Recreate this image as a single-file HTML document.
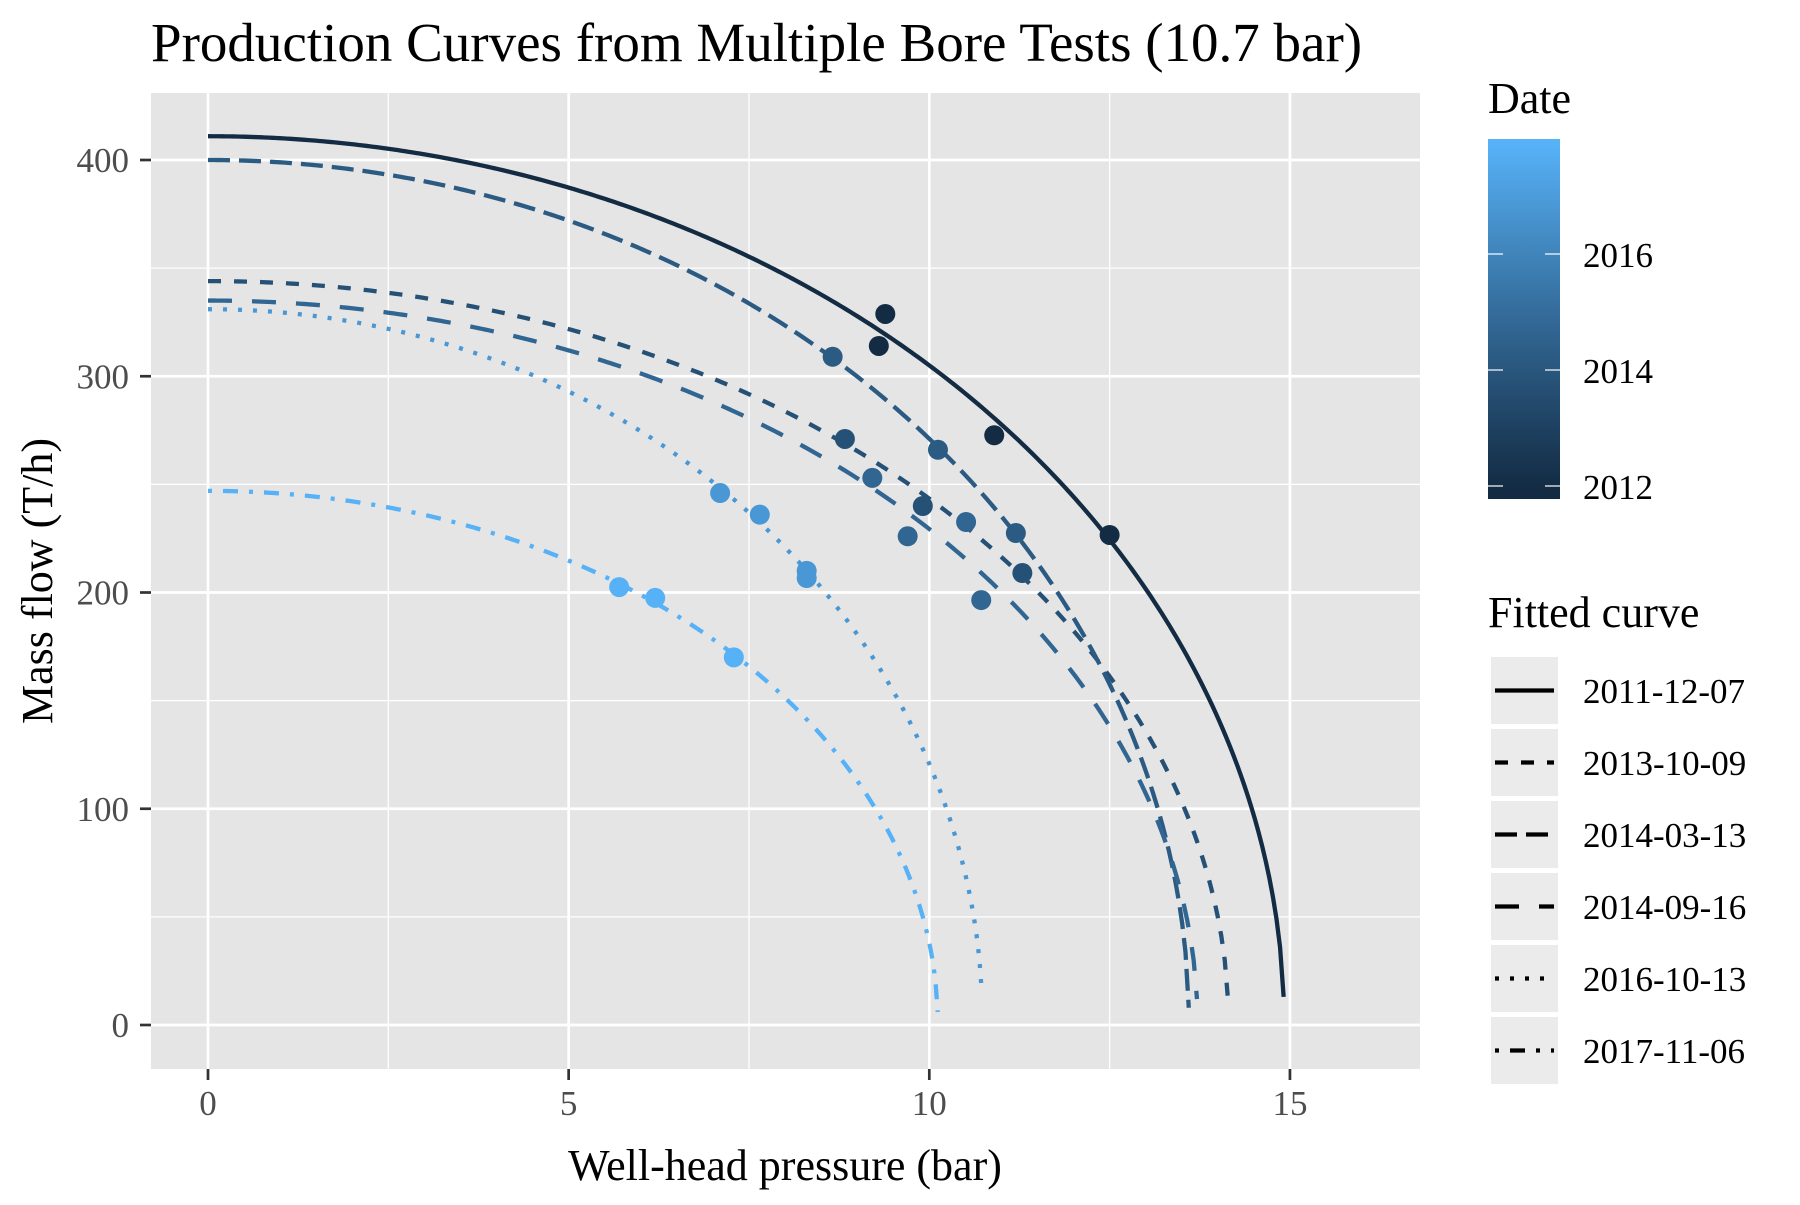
<!DOCTYPE html>
<html><head><meta charset="utf-8"><style>
html,body{margin:0;padding:0;background:#fff;}
svg text{font-family:"Liberation Serif",serif;}
</style></head><body>
<svg id="chart" width="1800" height="1200" viewBox="0 0 1800 1200" xmlns="http://www.w3.org/2000/svg">
<rect width="1800" height="1200" fill="#fff"/>
<text x="151" y="61" font-size="55" fill="#000">Production Curves from Multiple Bore Tests (10.7 bar)</text>
<rect x="151" y="93" width="1269" height="976" fill="#e5e5e5"/>
<g id="grid"></g>
<g id="curves"></g>
<g id="points"></g>
<g id="axes"></g>
<text x="785" y="1180" font-size="44" text-anchor="middle" fill="#000">Well-head pressure (bar)</text>
<text transform="translate(52,581) rotate(-90)" font-size="44" text-anchor="middle" fill="#000">Mass flow (T/h)</text>
<text x="1488" y="113" font-size="44" fill="#000">Date</text>
<defs><linearGradient id="cbgrad" gradientUnits="userSpaceOnUse" x1="0" y1="490" x2="0" y2="144"></linearGradient></defs>
<g id="colorbar"></g>
<text x="1488" y="627" font-size="44" fill="#000">Fitted curve</text>
<g id="legend"></g>
</svg>
<script>
// ---- data ----
const dates = ["2011-12-07","2013-10-09","2014-03-13","2014-09-16","2016-10-13","2017-11-06"];
const dateNum = [2011.93, 2013.77, 2014.20, 2014.71, 2016.78, 2017.85];
const q0 = [411, 344, 400, 335, 331, 247];
const pmax = [14.92, 14.15, 13.6, 13.72, 10.74, 10.12];
const qEnd = [13, 11, 8, 12, 15, 6];
const dashes = ["", "13,13", "22,9", "24,20", "4,11", "4,11,15,11"];
const pointP = [9.39, 9.30, 10.90, 12.50, 8.83, 9.91, 11.29, 8.66, 10.12, 11.20, 9.21, 9.70, 10.51, 10.72, 7.10, 7.65, 8.30, 8.30, 5.70, 6.20, 7.29];
const pointQ = [328.8, 314, 272.7, 226.6, 271, 240, 209, 309, 266, 227.5, 253, 226, 232.6, 196.5, 246, 236, 210, 206.7, 202.5, 197.5, 170];
const pointSeries = [0,0,0,0, 1,1,1, 2,2,2, 3,3,3,3, 4,4,4,4, 5,5,5];
const xTicks = [0, 5, 10, 15];
const xMinor = [2.5, 7.5, 12.5];
const yTicks = [0, 100, 200, 300, 400];
const yMinor = [50, 150, 250, 350];
const cbTicks = [2012, 2014, 2016];

// ---- scales ----
const NS = "http://www.w3.org/2000/svg";
const X = p => 208 + 72.13 * p;
const Y = q => 1025 - 2.1625 * q;
const dMin = 2011.93, dMax = 2017.85;
function toLin(c){c/=255;return c<=0.04045?c/12.92:Math.pow((c+0.055)/1.055,2.4);}
function fromLin(c){const v=c<=0.0031308?12.92*c:1.055*Math.pow(c,1/2.4)-0.055;return Math.max(0,Math.min(255,Math.round(v*255)));}
function rgb2lab(r){const [R,G,B]=r.map(toLin);
  let x=(0.4124*R+0.3576*G+0.1805*B)/0.95047,y=0.2126*R+0.7152*G+0.0722*B,z=(0.0193*R+0.1192*G+0.9505*B)/1.08883;
  const f=t=>t>0.008856?Math.cbrt(t):7.787*t+16/116;
  return [116*f(y)-16,500*(f(x)-f(y)),200*(f(y)-f(z))];}
function lab2rgb(l){const fy=(l[0]+16)/116,fx=fy+l[1]/500,fz=fy-l[2]/200;
  const g=t=>t*t*t>0.008856?t*t*t:(t-16/116)/7.787;
  const x=g(fx)*0.95047,y=g(fy),z=g(fz)*1.08883;
  const R=3.2406*x-1.5372*y-0.4986*z,G=-0.9689*x+1.8758*y+0.0415*z,B=0.0557*x-0.2040*y+1.0570*z;
  return [fromLin(R),fromLin(G),fromLin(B)];}
const L0=rgb2lab([0x13,0x2B,0x43]), L1=rgb2lab([0x56,0xB1,0xF7]);
function colorT(t){const l=L0.map((v,i)=>v+(L1[i]-v)*t);return "rgb("+lab2rgb(l).join(",")+")";}
function color(d){ return colorT((d - dMin) / (dMax - dMin)); }
function mk(tag, attrs, parent){ const e = document.createElementNS(NS, tag);
  for (const k in attrs) e.setAttribute(k, attrs[k]); parent.appendChild(e); return e; }

const grad=document.getElementById("cbgrad");
for(let k=0;k<=10;k++){mk("stop",{offset:k/10,"stop-color":colorT(k/10)},grad);}

const grid = document.getElementById("grid");
xMinor.forEach(v=>{ const l=mk("line",{x1:X(v),x2:X(v),y1:93,y2:1069,stroke:"#fff","stroke-width":1.3},grid);
    });
yMinor.forEach(v=>{ const l=mk("line",{x1:151,x2:1420,y1:Y(v),y2:Y(v),stroke:"#fff","stroke-width":1.3},grid);
    });
xTicks.forEach(v=>{ const l=mk("line",{x1:X(v),x2:X(v),y1:93,y2:1069,stroke:"#fff","stroke-width":2.7},grid);
    });
yTicks.forEach(v=>{ const l=mk("line",{x1:151,x2:1420,y1:Y(v),y2:Y(v),stroke:"#fff","stroke-width":2.7},grid);
    });

const axes = document.getElementById("axes");
xTicks.forEach(v=>{
  const t=mk("line",{x1:X(v),x2:X(v),y1:1069,y2:1080,stroke:"#333","stroke-width":2.7},axes);
   
  const s=mk("text",{x:X(v),y:1115,"font-size":35,"text-anchor":"middle",fill:"#4d4d4d"},axes);
  s.textContent=v;  
});
yTicks.forEach(v=>{
  const t=mk("line",{x1:140,x2:151,y1:Y(v),y2:Y(v),stroke:"#333","stroke-width":2.7},axes);
   
  const s=mk("text",{x:129,y:Y(v)+12,"font-size":35,"text-anchor":"end",fill:"#4d4d4d"},axes);
  s.textContent=v;  
});

const curves = document.getElementById("curves");
dates.forEach((d,i)=>{
  const pe = pmax[i]*Math.sqrt(1 - (qEnd[i]/q0[i])**2);
  let pts=[]; const N=300;
  for(let k=0;k<=N;k++){ const p=pe*k/N; const q=q0[i]*Math.sqrt(Math.max(0,1-(p/pmax[i])**2));
    pts.push(X(p).toFixed(2)+","+Y(q).toFixed(2)); }
  const a={points:pts.join(" "),fill:"none",stroke:color(dateNum[i]),"stroke-width":4.3};
  if(dashes[i]) a["stroke-dasharray"]=dashes[i];
  const pl=mk("polyline",a,curves);
   
});

const points = document.getElementById("points");
pointP.forEach((p,i)=>{
  const c=mk("circle",{cx:X(p),cy:Y(pointQ[i]),r:10,fill:color(dateNum[pointSeries[i]])},points);
   
});

const cb = document.getElementById("colorbar");
const CBY = d => 486 - (d-2012)*58;
grad.setAttribute("y1",CBY(dMin)); grad.setAttribute("y2",CBY(dMax));
const bar = mk("rect",{x:1488,y:139,width:72,height:360,fill:"url(#cbgrad)"},cb);
 
cbTicks.forEach(v=>{
  const a=mk("line",{x1:1488,x2:1503,y1:CBY(v),y2:CBY(v),stroke:"#fff","stroke-width":1.2},cb);
   
  const b=mk("line",{x1:1545,x2:1560,y1:CBY(v),y2:CBY(v),stroke:"#fff","stroke-width":1.2},cb);
   
  const s=mk("text",{x:1583,y:CBY(v)+13,"font-size":35,fill:"#000"},cb);
  s.textContent=v;  
});

const lg = document.getElementById("legend");
dates.forEach((d,i)=>{
  const y0 = 657 + i*72;
  const k=mk("rect",{x:1491,y:y0,width:67,height:67,fill:"#ebebeb"},lg);
   
  const a={x1:1495,x2:1554,y1:y0+33.5,y2:y0+33.5,stroke:"#000","stroke-width":4.3};
  if(dashes[i]) a["stroke-dasharray"]=dashes[i];
  const l=mk("line",a,lg);
   
  const s=mk("text",{x:1583,y:y0+46,"font-size":35,fill:"#000"},lg);
  s.textContent=d;  
});
</script>
</body></html>
